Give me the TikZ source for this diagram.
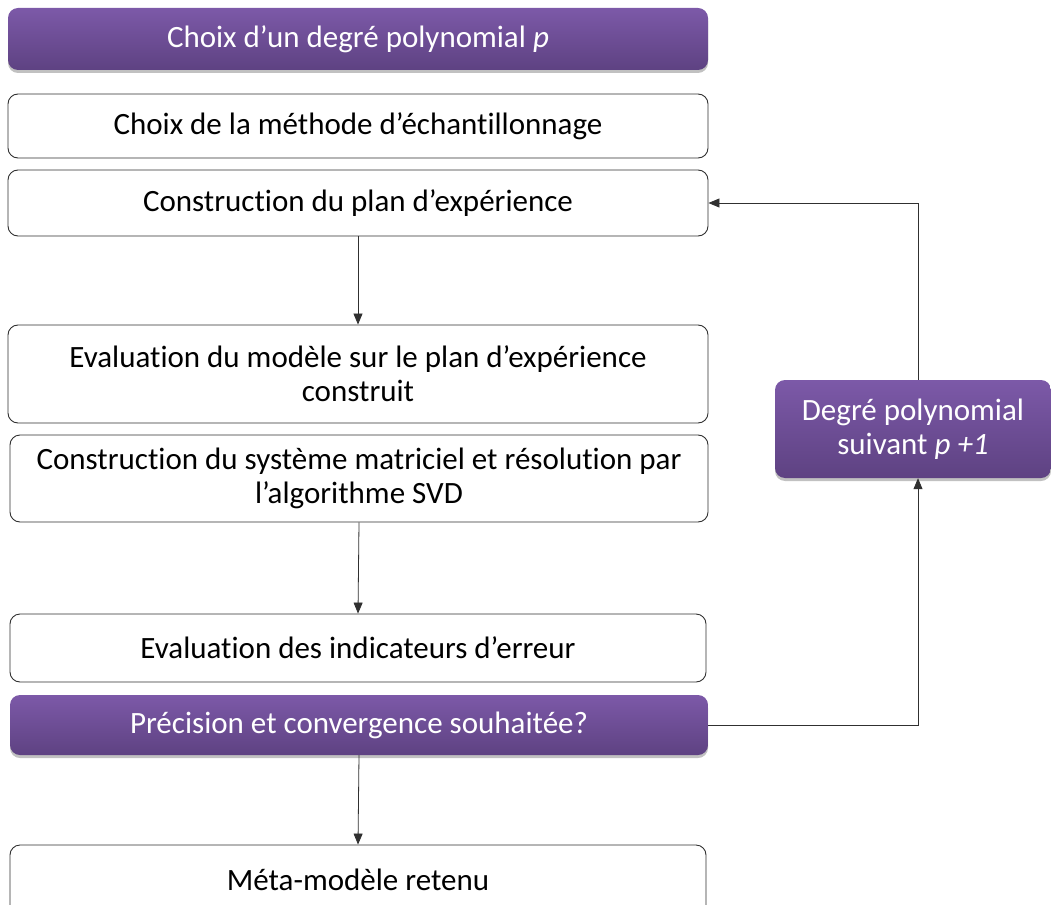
\documentclass[tikz,border=0pt]{standalone}
\usepackage{fontspec}
\setmainfont{Carlito}[RawFeature={-liga;-clig;-dlig;-calt;-hlig}]
\usetikzlibrary{arrows.meta,shadows,calc}
\definecolor{purpTop}{HTML}{7C59A8}
\definecolor{purpBot}{HTML}{5E4282}
\definecolor{edge}{HTML}{303030}
\tikzset{
  whitebox/.style={draw=edge, line width=0.9pt, fill=white, rounded corners=10pt,
    align=center, inner sep=0pt, font=\fontsize{31}{34}\selectfont},
  purplebox/.style={draw=none, top color=purpTop, bottom color=purpBot, rounded corners=10pt,
    align=center, inner sep=0pt, text=white, font=\fontsize{31}{34}\selectfont,
    drop shadow={shadow xshift=0pt, shadow yshift=-3pt, opacity=0.35, fill=black!70}},
  conn/.style={draw=edge, line width=0.8pt, -{Triangle[length=11pt,width=9pt]}}
}
\begin{document}
\begin{tikzpicture}[x=1pt,y=-1pt]
\useasboundingbox (0,0) rectangle (1051,904);
\node[purplebox, minimum width=700pt, minimum height=62pt] (b1) at (358,39) {Choix d’un degré polynomial \textit{p}};
\node[whitebox, minimum width=700pt, minimum height=64pt] (b2) at (358,126) {Choix de la méthode d’échantillonnage};
\node[whitebox, minimum width=700pt, minimum height=66pt] (b3) at (358,203) {Construction du plan d’expérience};
\node[whitebox, minimum width=700pt, minimum height=98pt] (b4) at (358,374) {Evaluation du modèle sur le plan d’expérience\\construit};
\node[whitebox, minimum width=698pt, minimum height=87pt] (b5) at (359,478.5) {Construction du système matriciel et résolution par\\l’algorithme SVD};
\node[whitebox, minimum width=696pt, minimum height=68pt] (b6) at (358,648) {Evaluation des indicateurs d’erreur};
\node[purplebox, minimum width=698pt, minimum height=60pt] (b7) at (359,725) {Précision et convergence souhaitée?};
\node[whitebox, minimum width=696pt, minimum height=70pt] (b8) at (358,880) {Méta-modèle retenu};
\node[purplebox, minimum width=276pt, minimum height=98pt] (b9) at (913,429) {Degré polynomial\\suivant \textit{p +1}};
\coordinate (loopx) at (918,0);
\draw[conn] (b3.south) -- (b4.north);
\draw[conn] (b5.south) -- (b6.north);
\draw[conn] (b7.south) -- (b8.north);
\draw[conn] (b7.east) -| (b9.south -| loopx);
\draw[conn] (b9.north -| loopx) |- (b3.east);
\end{tikzpicture}
\end{document}
